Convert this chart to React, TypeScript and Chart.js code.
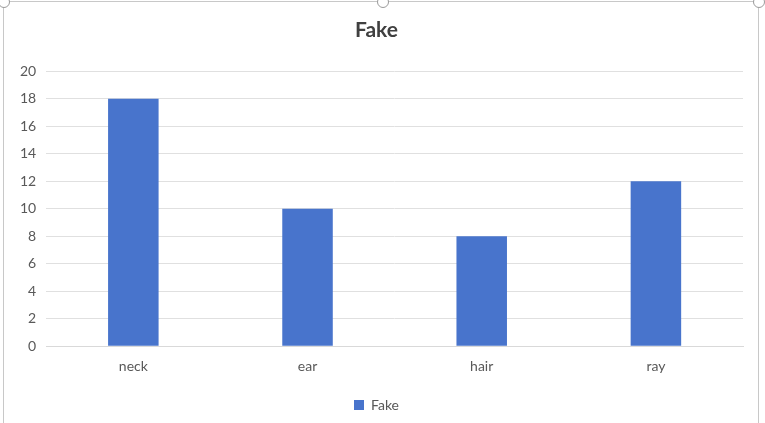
import React, { useEffect, useRef } from 'react';
import { Chart, registerables } from 'chart.js';

Chart.register(...registerables);

const categories: string[] = ['neck', 'ear', 'hair', 'ray'];
const fakeValues: number[] = [18, 10, 8, 12];
const seriesName = 'Fake';

const FONT = 'Lato, "Noto Sans", sans-serif';

const Handle: React.FC<{ left: number; top: number }> = ({ left, top }) => (
  <div
    style={{
      position: 'absolute',
      left: left - 6,
      top: top - 6,
      width: 10,
      height: 10,
      borderRadius: '50%',
      border: '1px solid #9a9a9a',
      background: '#fff',
    }}
  />
);

const App: React.FC = () => {
  const chartRef = useRef<HTMLCanvasElement>(null);

  useEffect(() => {
    if (!chartRef.current) return;
    const chart = new Chart(chartRef.current, {
      type: 'bar',
      data: {
        labels: categories,
        datasets: [
          {
            label: seriesName,
            data: fakeValues,
            backgroundColor: '#4874cc',
            borderWidth: 0,
            categoryPercentage: 1,
            barPercentage: 0.29,
          },
        ],
      },
      options: {
        responsive: false,
        animation: false,
        layout: { padding: { left: 10, right: 22, top: 6, bottom: 1 } },
        plugins: {
          title: {
            display: true,
            text: 'Fake',
            color: '#404040',
            font: { family: FONT, size: 21, weight: 'bold' },
            padding: { top: 12, bottom: 28 },
          },
          legend: {
            position: 'bottom',
            labels: {
              color: '#595959',
              font: { family: FONT, size: 14 },
              boxWidth: 10,
              boxHeight: 10,
              padding: 19,
            },
          },
          tooltip: { enabled: false },
        },
        scales: {
          x: {
            grid: { display: false },
            border: { color: '#d9d9d9' },
            ticks: {
              color: '#595959',
              font: { family: FONT, size: 14 },
              padding: 4,
            },
          },
          y: {
            min: 0,
            max: 20,
            grid: { color: '#e0e0e0', drawTicks: false },
            border: { display: false },
            ticks: {
              stepSize: 2,
              color: '#595959',
              font: { family: FONT, size: 14 },
              padding: 10,
            },
          },
        },
      },
    });
    return () => {
      chart.destroy();
    };
  }, []);

  return (
    <div
      style={{
        position: 'fixed',
        left: 0,
        top: 0,
        width: 765,
        height: 423,
        background: '#fff',
        overflow: 'hidden',
      }}
    >
      <div
        style={{
          position: 'absolute',
          left: 3,
          top: 1,
          width: 754,
          height: 440,
          border: '1px solid #c8c8c8',
        }}
      />
      <canvas
        ref={chartRef}
        width={765}
        height={423}
        style={{ position: 'absolute', left: 0, top: 0 }}
      />
      <Handle left={4} top={2} />
      <Handle left={383} top={2} />
      <Handle left={759} top={2} />
    </div>
  );
};

export default App;
